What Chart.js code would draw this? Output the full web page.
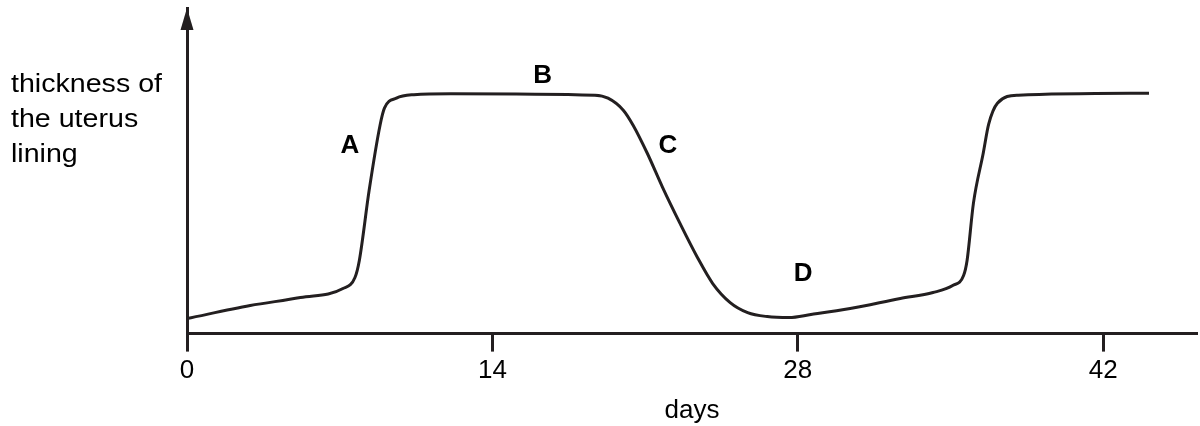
<!DOCTYPE html>
<html lang="en">
<head>
    <meta charset="UTF-8">
    <title>Thickness of the uterus lining</title>
    <script src="https://cdn.jsdelivr.net/npm/chart.js"></script>
    <style>
        body { margin: 0; background: #fff; }
        #wrap { width: 1200px; height: 426px; }
    </style>
</head>
<body>
    <div id="wrap"><canvas id="cycleChart" width="1200" height="426"></canvas></div>

    <script>
        // Curve: day of cycle vs lining thickness (arbitrary units)
        const days = [0, 2.9, 5.2, 7.15, 7.7, 7.9, 8.35, 8.85, 9.05, 9.6, 10.4, 12.1, 18.7, 19.3, 20.0, 20.45,
                      21.1, 21.8, 22.6, 23.4, 24.1, 24.9, 25.7, 26.6, 27.6, 28.6, 30.4, 32.7, 34.2, 35.1,
                      35.6, 35.76, 36.05, 36.5, 36.75, 37.15, 38.1, 44.1];
        const thickness = [15, 28, 36, 45, 56, 73, 143, 208, 225, 235, 238.5, 239.5, 238, 235, 223, 208,
                           180, 146, 110, 76, 50, 31, 21, 17, 16, 19, 25, 35, 41, 48,
                           58, 73, 130, 180, 209, 230, 238, 240];
        const tickDays = [0, 14, 28, 42];

        // Stage letters and where they sit (day, thickness)
        const stageNames = ['A', 'B', 'C', 'D'];
        const stageDays = [7.47, 16.3, 22.05, 28.25];
        const stageLevels = [187, 257, 187, 60];

        const yLabelLines = ['thickness of', 'the uterus', 'lining'];

        const ink = '#231f20';
        const font = 'Liberation Sans, Arial, sans-serif';

        // draws the arrow head, the stage letters and the y label
        const extras = {
            id: 'extras',
            afterDraw(chart) {
                const c = chart.ctx;
                const xs = chart.scales.x, ys = chart.scales.y;
                const ax = chart.chartArea.left, top = chart.chartArea.top;
                c.save();
                c.fillStyle = ink;
                c.beginPath();
                c.moveTo(ax, top);
                c.lineTo(ax - 6.5, top + 22);
                c.lineTo(ax + 6.5, top + 22);
                c.closePath();
                c.fill();

                c.fillStyle = '#000';
                c.font = 'bold 26px ' + font;
                c.textAlign = 'center';
                c.textBaseline = 'middle';
                stageNames.forEach((s, i) => {
                    c.fillText(s, xs.getPixelForValue(stageDays[i]), ys.getPixelForValue(stageLevels[i]));
                });

                c.font = '26px ' + font;
                c.textAlign = 'left';
                c.textBaseline = 'alphabetic';
                c.translate(11, 0);
                c.scale(1.1, 1);
                yLabelLines.forEach((line, i) => {
                    c.fillText(line, 0, 92 + i * 35);
                });
                c.restore();
            }
        };

        const ctx = document.getElementById('cycleChart').getContext('2d');
        const myChart = new Chart(ctx, {
            type: 'line',
            data: {
                datasets: [{
                    data: days.map((d, i) => ({ x: d, y: thickness[i] })),
                    borderColor: ink,
                    borderWidth: 3,
                    pointRadius: 0,
                    fill: false,
                    cubicInterpolationMode: 'monotone'
                }]
            },
            options: {
                responsive: false,
                animation: false,
                devicePixelRatio: 1,
                layout: { padding: { left: 187, right: 3, top: 8, bottom: 0 } },
                plugins: { legend: { display: false }, tooltip: { enabled: false } },
                scales: {
                    x: {
                        type: 'linear',
                        min: 0,
                        max: 46.3,
                        afterBuildTicks: (scale) => { scale.ticks = tickDays.map(v => ({ value: v })); },
                        grid: { drawOnChartArea: false, tickLength: 18, tickWidth: 3, tickColor: ink },
                        border: { display: true, color: ink, width: 3 },
                        ticks: { color: '#000', padding: 4, maxRotation: 0, font: { family: font, size: 26 } },
                        title: { display: true, text: 'days', color: '#000', padding: { top: 4, bottom: 0 },
                                 font: { family: font, size: 26 } }
                    },
                    y: {
                        min: 0,
                        max: 325,
                        grid: { display: false, drawTicks: false },
                        border: { display: true, color: ink, width: 3 },
                        ticks: { display: false }
                    }
                }
            },
            plugins: [extras]
        });
    </script>
</body>
</html>
